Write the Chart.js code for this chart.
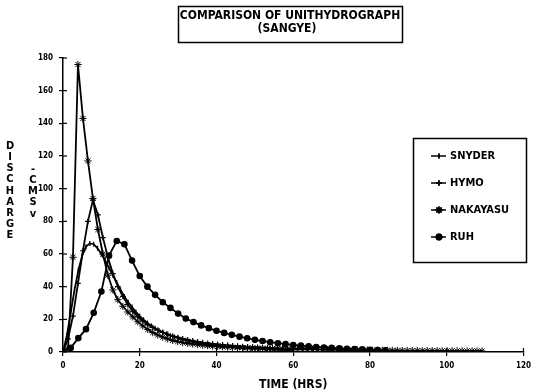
<!DOCTYPE html>
<html>
<head>
<meta charset="utf-8">
<script src="https://cdn.jsdelivr.net/npm/chart.js@4.4.1/dist/chart.umd.min.js"></script>
<style>
  html, body { margin: 0; padding: 0; background: #fff; }
  #wrap { width: 536px; height: 392px; position: relative; }
</style>
</head>
<body>
<div id="wrap"><canvas id="chartBox" width="536" height="392"></canvas></div>
<script>
// series names, same order as the legend
const seriesNames = ['SNYDER', 'HYMO', 'NAKAYASU', 'RUH']

// time step of each hydrograph (hrs)
const snyderStep = 1
const hymoStep = 1.3
const nakayasuStep = 1.3
const ruhStep = 2

// discharge (cms)
const snyderQ = [0, 10, 24, 38, 50, 59, 64.5, 66.5, 66, 63.5, 60, 56, 51.5, 47, 42.5, 38, 34, 30.5, 27.5, 24.5,
  22, 19.8, 17.8, 16, 14.5, 13.2, 12, 11, 10, 9.2, 8.5, 7.8, 7.2, 6.6, 6.1, 5.6, 5.2, 4.8, 4.5, 4.2,
  3.9, 3.6, 3.4, 3.2, 3, 2.8, 2.6, 2.4, 2.3, 2.2, 2, 1.9, 1.8, 1.7, 1.6, 1.5, 1.4, 1.3, 1.2, 1.2, 1.1]
const hymoQ = [0, 8, 22, 42, 62, 80, 93, 84, 70, 58, 48, 40, 34, 29, 25, 21.5, 19, 16.8, 15, 13.4,
  12, 10.8, 9.8, 8.9, 8.1, 7.4, 6.8, 6.3, 5.8, 5.4, 5, 4.7, 4.4, 4.1, 3.8, 3.6, 3.4, 3.2, 3, 2.8,
  2.6, 2.5, 2.3, 2.2, 2.1, 2, 1.9, 1.8, 1.7, 1.6]
const nakayasuQ = [0, 2, 58, 176, 143, 117, 94, 75, 60, 47, 38, 32, 28, 24.5, 21.5, 18.5, 16, 13.8, 11.9, 10.4,
  9.1, 8, 7.1, 6.4, 5.8, 5.3, 4.9, 4.5, 4.2, 3.9, 3.6, 3.4, 3.2, 3, 2.9, 2.8, 2.7, 2.6, 2.5, 2.4,
  2.3, 2.2, 2.1, 2, 2, 1.9, 1.8, 1.8, 1.7, 1.7, 1.6, 1.6, 1.5, 1.5, 1.4, 1.4, 1.3, 1.3, 1.3, 1.2,
  1.2, 1.2, 1.1, 1.1, 1.1, 1, 1, 1, 0.9, 0.9, 0.9, 0.9, 0.8, 0.8, 0.8, 0.8, 0.7, 0.7, 0.7, 0.7,
  0.7, 0.6, 0.6, 0.6, 0.6]
const ruhQ = [0, 2.5, 8.5, 14, 24, 37, 59, 68, 66, 56, 46.5, 40, 35, 30.5, 27, 23.5, 20.5, 18.3, 16.3, 14.6,
  13, 11.7, 10.5, 9.4, 8.4, 7.5, 6.7, 6, 5.4, 4.8, 4.3, 3.9, 3.5, 3.1, 2.8, 2.5, 2.2, 2, 1.8, 1.6,
  1.4, 1.2, 1.1]

// axis ticks
const xTicks = [0, 20, 40, 60, 80, 100, 120]
const yTicks = [0, 20, 40, 60, 80, 100, 120, 140, 160, 180]

const titleLines = ['COMPARISON OF UNITHYDROGRAPH', '(SANGYE)']
const yTitleLeft = 'DISCHARGE'
const yTitleRight = ['-', 'C', 'M', 'S', 'v']
const xTitle = 'TIME (HRS)'

const narrow = '"Liberation Sans Narrow", "DejaVu Sans Condensed", "Liberation Sans", sans-serif'

const toPoints = (step, values) => values.map((v, i) => ({ x: Math.round(i * step * 10) / 10, y: v }))

const styles = [
  { pointStyle: 'line', pointRotation: 90, pointRadius: 2.5, pointBorderWidth: 1.2 },
  { pointStyle: 'cross', pointRadius: 2.8, pointBorderWidth: 1.2 },
  { pointStyle: 'star', pointRadius: 3.6, pointBorderWidth: 1 },
  { pointStyle: 'circle', pointRadius: 2.7, pointBorderWidth: 1.2 }
]
const steps = [snyderStep, hymoStep, nakayasuStep, ruhStep]
const values = [snyderQ, hymoQ, nakayasuQ, ruhQ]

const datasets = seriesNames.map((name, i) => ({
  label: name,
  data: toPoints(steps[i], values[i]),
  borderColor: '#000',
  backgroundColor: '#000',
  borderWidth: 1.8,
  pointBorderColor: '#000',
  pointBackgroundColor: '#000',
  tension: 0,
  ...styles[i]
}))

// title box, stacked y title, inner tick marks and the boxed legend
const decorations = {
  id: 'decorations',
  afterDraw(chart) {
    const ctx = chart.ctx
    const xs = chart.scales.x
    const ys = chart.scales.y
    ctx.save()
    ctx.fillStyle = '#000'
    ctx.strokeStyle = '#000'

    // inner half of the "+" ticks
    ctx.lineWidth = 1.2
    yTicks.forEach(v => {
      const py = ys.getPixelForValue(v)
      ctx.beginPath(); ctx.moveTo(xs.left, py); ctx.lineTo(xs.left + 4, py); ctx.stroke()
    })
    xTicks.forEach(v => {
      const px = xs.getPixelForValue(v)
      ctx.beginPath(); ctx.moveTo(px, ys.bottom); ctx.lineTo(px, ys.bottom - 4); ctx.stroke()
    })

    // title
    ctx.font = 'bold 12px ' + narrow
    ctx.textAlign = 'center'
    ctx.textBaseline = 'middle'
    ctx.fillText(titleLines[0], 290, 16)
    ctx.fillText(titleLines[1], 287, 29)
    ctx.lineWidth = 1.5
    ctx.strokeRect(178.5, 6.5, 224, 36)

    // stacked y title
    ctx.font = 'bold 11px ' + narrow
    yTitleLeft.split('').forEach((ch, i) => ctx.fillText(ch, 10, 146 + i * 11.2))
    yTitleRight.forEach((ch, i) => ctx.fillText(ch, 33, 169 + i * 11.2))

    // legend
    ctx.lineWidth = 1.5
    ctx.strokeRect(413.5, 138.5, 113, 124)
    ctx.textAlign = 'left'
    ctx.font = 'bold 11px ' + narrow
    chart.data.datasets.forEach((ds, i) => {
      const y = 156 + i * 27
      ctx.lineWidth = 1.5
      ctx.beginPath(); ctx.moveTo(431, y); ctx.lineTo(446, y); ctx.stroke()
      Chart.helpers.drawPoint(ctx, {
        pointStyle: ds.pointStyle,
        rotation: ds.pointRotation || 0,
        radius: ds.pointRadius,
        borderWidth: ds.pointBorderWidth
      }, 439, y)
      if (ds.pointStyle === 'circle') ctx.fill()
      ctx.stroke()
      ctx.fillText(ds.label, 450, y)
    })
    ctx.restore()
  }
}

const context = document.querySelector('#chartBox').getContext('2d')
const chart = new Chart(context, {
  type: 'line',
  data: { datasets },
  options: {
    responsive: false,
    animation: false,
    layout: { padding: { top: 58, right: 9, left: 0, bottom: 0 } },
    plugins: {
      legend: { display: false },
      title: { display: false },
      tooltip: { enabled: false }
    },
    scales: {
      x: {
        type: 'linear',
        min: 0,
        max: 120,
        afterFit: s => { s.height = 40 },
        afterBuildTicks: s => { s.ticks = xTicks.map(v => ({ value: v })) },
        border: { color: '#000', width: 1.5 },
        grid: { drawOnChartArea: false, color: '#000', tickLength: 4, lineWidth: 1.2 },
        ticks: { color: '#000', padding: 5, maxRotation: 0, font: { family: narrow, size: 8, weight: 'bold' } },
        title: { display: true, text: xTitle, color: '#000', padding: { top: 0, bottom: 0 },
          font: { family: narrow, size: 12, weight: 'bold' } }
      },
      y: {
        min: 0,
        max: 180,
        afterFit: s => { s.width = 63 },
        afterBuildTicks: s => { s.ticks = yTicks.map(v => ({ value: v })) },
        border: { color: '#000', width: 1.5 },
        grid: { drawOnChartArea: false, color: '#000', tickLength: 4, lineWidth: 1.2 },
        ticks: { color: '#000', padding: 6, font: { family: narrow, size: 8, weight: 'bold' } }
      }
    }
  },
  plugins: [decorations]
})
</script>
</body>
</html>
